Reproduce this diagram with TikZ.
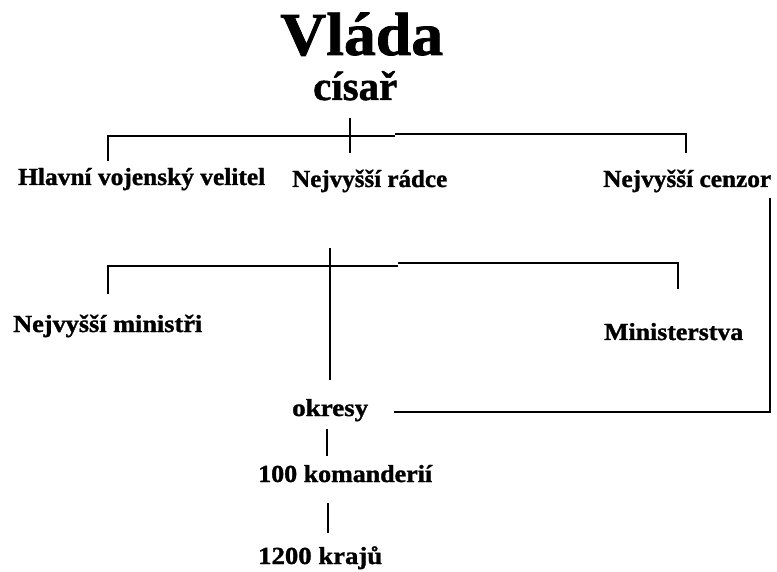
\documentclass[tikz,border=0pt]{standalone}
\usepackage{fontspec}
\usepackage{graphicx}
\setmainfont{Liberation Serif}[BoldFeatures={FakeBold=1.2}]
\newcommand{\fitw}[2]{\resizebox{#1pt}{\height}{#2}}
\begin{document}
\begin{tikzpicture}[x=1pt,y=-1pt,
  lab/.style={anchor=base west,inner sep=0pt,font=\fontsize{24.5}{26}\selectfont\bfseries},
  conn/.style={line width=1.2pt,black}]
\useasboundingbox (0,0) rectangle (777,572);
% titles
\node[lab,font=\fontsize{61}{66}\selectfont\bfseries] (vlada) at (280,55) {\fitw{163}{Vláda}};
\node[lab,font=\fontsize{41}{44}\selectfont\bfseries] (cisar) at (313,100) {\fitw{84}{císař}};
% first level
\node[lab] (hlavni) at (18,185) {\fitw{247}{Hlavní vojenský velitel}};
\node[lab] (radce) at (292,187) {\fitw{155}{Nejvyšší rádce}};
\node[lab] (cenzor) at (603,187) {\fitw{168}{Nejvyšší cenzor}};
% second level
\node[lab] (ministri) at (13,332) {\fitw{189}{Nejvyšší ministři}};
\node[lab] (ministerstva) at (604,340) {\fitw{139}{Ministerstva}};
% lower chain
\node[lab] (okresy) at (292,416) {\fitw{76}{okresy}};
\node[lab] (koman) at (258,482) {\fitw{174}{100 komanderií}};
\node[lab] (kraje) at (258,564) {\fitw{124}{1200 krajů}};
% junction coordinates
\coordinate (a1) at (108,136);
\coordinate (a2) at (395,136);
\coordinate (a3) at (395,134);
\coordinate (a4) at (686,134);
\coordinate (t1) at (108,161);
\coordinate (c1) at (350,118);
\coordinate (c2) at (350,153);
\coordinate (t3) at (686,153);
\coordinate (b1) at (108,266);
\coordinate (b2) at (398,266);
\coordinate (b3) at (398,263);
\coordinate (b4) at (678,263);
\coordinate (u1) at (108,294);
\coordinate (u3) at (678,289);
\coordinate (m1) at (330,248);
\coordinate (m2) at (330,380);
\coordinate (r1) at (770,198);
\coordinate (r2) at (770,412);
\coordinate (r3) at (394,412);
\coordinate (v1) at (327,429);
\coordinate (v2) at (327,456);
\coordinate (w1) at (328,503);
\coordinate (w2) at (328,533);
% connectors
\draw[conn] (t1) -- (a1) -- (a2);
\draw[conn] (a3) -- (a4) -- (t3);
\draw[conn] (c1) -- (c2);
\draw[conn] (u1) -- (b1) -- (b2);
\draw[conn] (b3) -- (b4) -- (u3);
\draw[conn] (m1) -- (m2);
\draw[conn] (r1) -- (r2) -- (r3);
\draw[conn] (v1) -- (v2);
\draw[conn] (w1) -- (w2);
\end{tikzpicture}
\end{document}
